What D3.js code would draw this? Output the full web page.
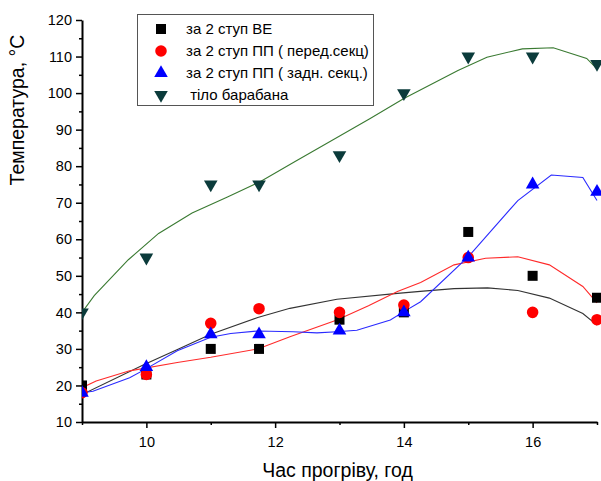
<!DOCTYPE html>
<html>
<head>
<meta charset="utf-8">
<script src="https://cdn.jsdelivr.net/npm/d3@7"></script>
<style>
  body { margin: 0; background: #fff; }
  svg { font-family: "Liberation Sans", Arial, sans-serif; }
  .axis path, .axis line { stroke: #000; }
  .axis path { stroke-width: 2px; }
  .axis line { stroke-width: 1.5px; }
  .axis text { font-size: 14.5px; fill: #000; }
  .title { font-size: 19.5px; fill: #000; }
  .legend text { font-size: 15px; fill: #000; }
</style>
</head>
<body>
<svg id="chart" width="601" height="481"></svg>
<script>
// measured points
const hours = [9, 10, 11, 11.75, 13, 14, 15, 16, 17];
const tempVE = [20, 23, 30, 30, 38, 40, 62, 50, 44];
const tempFront = [18, 23, 37, 41, 40, 42, 55, 40, 38];
const tempRear = [18, 25, 34, 34, 35, 40, 55, 75, 73];
const tempDrum = [40, 55, 75, 75, 83, 100, 110, 110, 108];

// fitted curves as [hour, temp]
const fitVE = [[9,17.5],[9.95,25.6],[10.5,30],[11,34],[11.73,38.6],[12.23,41.1],[12.96,43.6],[13.9,45.2],
  [14.3,45.8],[14.78,46.5],[15.3,46.7],[15.77,46],[16.26,43.9],[16.78,39.7],[17,36.5]];
const fitFront = [[9,19.4],[9.22,21.2],[9.74,24],[10.48,26.3],[11,27.7],[11.73,30],[12.23,33.3],[12.96,37.9],
  [13.45,41.8],[13.9,45.7],[14.26,48.2],[14.78,53],[15.27,54.8],[15.77,55.2],[16.26,53],[16.78,47.1],[17,42.6]];
const fitRear = [[9,18],[9.17,18.4],[9.74,22.1],[9.98,24.4],[10.48,29.5],[11,33.2],[11.31,34.2],[11.73,34.9],
  [12.28,34.7],[12.65,34.4],[12.96,34.7],[13.27,35.1],[13.79,37.9],[14,40.2],[14.26,42.9],[15.01,55.4],
  [15.77,70.6],[16.29,77.6],[16.78,76.9],[17,70.6]];
const fitDrum = [[9,40],[9.19,44.6],[9.72,54.4],[10.19,61.6],[10.71,67.2],[11.26,71.6],[11.76,75.7],[12.31,81.3],
  [12.86,86.8],[13.47,93],[14,98.5],[14.84,106.2],[15.29,109.8],[15.84,112.1],[16.32,112.4],[16.84,109.5],[17,106.6]];

const xTicks = [10, 12, 14, 16];
const xMinor = [9, 11, 13, 15, 17];
const yTicks = [10, 20, 30, 40, 50, 60, 70, 80, 90, 100, 110, 120];
const yMinor = [15, 25, 35, 45, 55, 65, 75, 85, 95, 105, 115];

const legendLabels = ['за 2 ступ ВЕ', 'за 2 ступ ПП ( перед.секц)', 'за 2 ступ ПП ( задн. секц.)', ' тіло барабана'];

const series = [
  { name: legendLabels[0], values: tempVE, fit: fitVE, symbol: d3.symbolSquare, size: 100, fill: '#000', line: '#333' },
  { name: legendLabels[1], values: tempFront, fit: fitFront, symbol: d3.symbolCircle, size: 105, fill: '#ff0000', line: '#ff2a2a' },
  { name: legendLabels[2], values: tempRear, fit: fitRear, symbol: d3.symbolTriangle, size: 80, fill: '#0000ff', line: '#2a2aff' },
  { name: legendLabels[3], values: tempDrum, fit: fitDrum, symbol: d3.symbolTriangle, size: 80, fill: '#0b3b3b', line: '#3a7a32', down: true },
];

const frame = { left: 82, right: 597, top: 20, bottom: 422 };

const svg = d3.select('#chart');
const x = d3.scaleLinear().domain([9, 17]).range([frame.left, frame.right]);
const y = d3.scaleLinear().domain([10, 120]).range([frame.bottom, frame.top]);

svg.append('defs').append('clipPath').attr('id', 'plot')
  .append('rect').attr('x', frame.left).attr('y', frame.top - 10)
  .attr('width', frame.right - frame.left + 4).attr('height', frame.bottom - frame.top + 10);

// minor ticks first, then the main axes
svg.append('g').attr('class', 'axis')
  .attr('transform', 'translate(0,' + frame.bottom + ')')
  .call(d3.axisBottom(x).tickValues(xMinor).tickSize(3).tickSizeOuter(0).tickFormat(''))
  .select('.domain').remove();
svg.append('g').attr('class', 'axis')
  .attr('transform', 'translate(' + frame.left + ',0)')
  .call(d3.axisLeft(y).tickValues(yMinor).tickSize(3).tickSizeOuter(0).tickFormat(''))
  .select('.domain').remove();

svg.append('g').attr('class', 'axis')
  .attr('transform', 'translate(0,' + frame.bottom + ')')
  .call(d3.axisBottom(x).tickValues(xTicks).tickSize(6).tickSizeOuter(0).tickPadding(9));
svg.append('g').attr('class', 'axis')
  .attr('transform', 'translate(' + frame.left + ',0)')
  .call(d3.axisLeft(y).tickValues(yTicks).tickSize(6).tickSizeOuter(0).tickPadding(4));

svg.append('text').attr('class', 'title')
  .attr('x', (frame.left + frame.right) / 2 - 2).attr('y', 477)
  .attr('text-anchor', 'middle').text('Час прогріву, год');
svg.append('text').attr('class', 'title')
  .attr('transform', 'translate(24,110) rotate(-90)')
  .attr('text-anchor', 'middle').text('Температура, °C');

const plot = svg.append('g').attr('clip-path', 'url(#plot)');
const line = d3.line().x(d => x(d[0])).y(d => y(d[1]));

series.forEach(s => {
  plot.append('path').datum(s.fit)
    .attr('d', line).attr('fill', 'none')
    .attr('stroke', s.line).attr('stroke-width', 1.1);
});

const sym = s => d3.symbol().type(s.symbol).size(s.size);
series.forEach(s => {
  plot.append('g').selectAll('path').data(hours)
    .join('path')
    .attr('d', sym(s))
    .attr('fill', s.fill)
    .attr('transform', (h, i) => 'translate(' + x(h) + ',' + y(s.values[i]) + ')' + (s.down ? ' rotate(180)' : ''));
});

// legend
const legend = svg.append('g').attr('class', 'legend');
legend.append('rect').attr('x', 137.5).attr('y', 14.5).attr('width', 236).attr('height', 91)
  .attr('fill', '#fff').attr('stroke', '#555').attr('stroke-width', 1);
series.forEach((s, i) => {
  const ry = 29 + i * 22;
  legend.append('path').attr('d', sym(s)).attr('fill', s.fill)
    .attr('transform', 'translate(161,' + ry + ')' + (s.down ? ' rotate(180)' : ''));
  legend.append('text').attr('x', 186).attr('y', ry + 5).attr('xml:space', 'preserve')
    .style('white-space', 'pre').text(s.name);
});
</script>
</body>
</html>
